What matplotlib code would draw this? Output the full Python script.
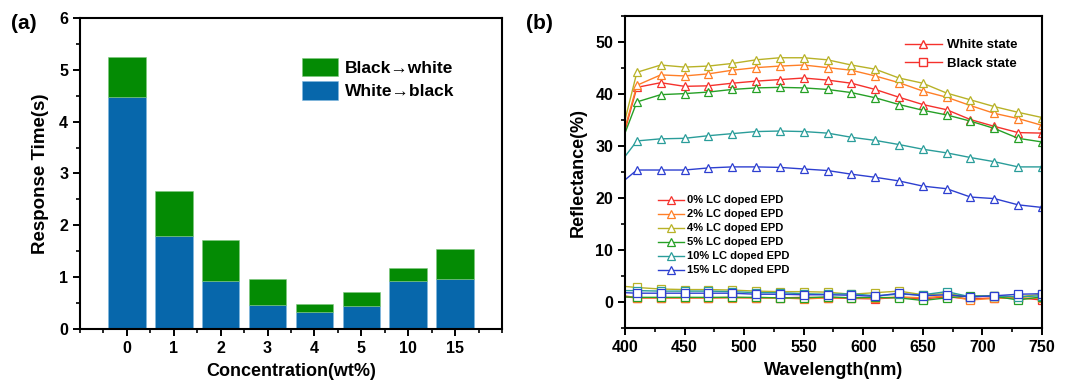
import matplotlib
matplotlib.use("Agg")
import matplotlib.pyplot as plt
from matplotlib.ticker import MultipleLocator
from matplotlib.lines import Line2D

plt.rcParams['font.family'] = ['Liberation Sans', 'DejaVu Sans']
plt.rcParams['font.weight'] = 'bold'

# ---------------- Panel (a) data ----------------
concentrations = ['0', '1', '2', '3', '4', '5', '10', '15']
white_to_black = [4.47, 1.80, 0.92, 0.47, 0.33, 0.45, 0.92, 0.96]
total_time = [5.25, 2.67, 1.71, 0.96, 0.48, 0.71, 1.18, 1.55]
black_to_white = [t - w for t, w in zip(total_time, white_to_black)]

# ---------------- Panel (b) data ----------------
wavelength = [400, 410, 430, 450, 470, 490, 510, 530, 550, 570, 590,
              610, 630, 650, 670, 690, 710, 730, 750]
series_labels = ['0% LC doped EPD', '2% LC doped EPD', '4% LC doped EPD',
                 '5% LC doped EPD', '10% LC doped EPD', '15% LC doped EPD']
white_0 = [33.0, 41.3, 42.2, 41.5, 41.6, 42.1, 42.5, 42.8, 43.1, 42.7, 42.1,
           40.9, 39.4, 38.0, 37.0, 35.1, 33.8, 32.6, 32.5]
white_2 = [33.5, 41.7, 43.7, 43.5, 43.9, 44.6, 45.1, 45.4, 45.6, 45.1, 44.6,
           43.5, 42.2, 40.6, 39.4, 37.8, 36.3, 35.3, 34.0]
white_4 = [35.0, 44.2, 45.6, 45.2, 45.4, 45.9, 46.6, 47.0, 47.0, 46.6, 45.6,
           44.8, 43.1, 42.1, 40.2, 38.9, 37.6, 36.5, 35.5]
white_5 = [32.5, 38.5, 39.9, 40.1, 40.4, 40.9, 41.2, 41.3, 41.2, 40.9, 40.3,
           39.3, 38.0, 36.9, 36.0, 34.8, 33.4, 31.5, 30.8]
white_10 = [28.0, 31.0, 31.4, 31.5, 32.0, 32.4, 32.8, 32.9, 32.8, 32.5, 31.7,
            31.1, 30.3, 29.4, 28.7, 27.8, 27.0, 26.0, 26.0]
white_15 = [23.5, 25.4, 25.4, 25.4, 25.8, 26.0, 26.0, 25.9, 25.6, 25.3, 24.6,
            24.0, 23.3, 22.3, 21.8, 20.2, 19.9, 18.7, 18.2]
black_0 = [1.0, 0.8, 0.8, 0.8, 0.8, 0.9, 0.8, 0.8, 0.9, 0.8, 0.7,
           0.6, 0.9, 0.6, 1.0, 0.6, 0.8, 0.8, 0.4]
black_2 = [1.2, 0.8, 0.8, 0.8, 0.8, 0.8, 0.8, 0.8, 0.6, 0.8, 0.8,
           0.7, 1.0, 0.8, 1.2, 0.4, 0.7, 0.8, 0.7]
black_4 = [3.0, 2.8, 2.5, 2.4, 2.4, 2.3, 2.1, 2.0, 2.0, 1.9, 1.5,
           1.8, 2.1, 1.4, 1.6, 1.0, 1.2, 1.0, 1.5]
black_5 = [1.0, 0.9, 0.9, 0.9, 0.9, 0.9, 0.9, 0.8, 0.8, 1.0, 0.8,
           0.9, 0.8, 0.3, 0.8, 1.2, 1.1, 0.4, 1.0]
black_10 = [2.2, 2.2, 2.1, 2.1, 2.1, 2.0, 1.8, 1.8, 1.6, 1.5, 1.6,
            1.2, 1.5, 1.4, 2.0, 1.0, 1.2, 1.0, 1.2]
black_15 = [1.8, 1.7, 1.7, 1.7, 1.7, 1.7, 1.5, 1.5, 1.4, 1.4, 1.3,
            1.1, 1.7, 1.2, 1.4, 1.0, 1.2, 1.5, 1.6]
white_states = [white_0, white_2, white_4, white_5, white_10, white_15]
black_states = [black_0, black_2, black_4, black_5, black_10, black_15]
series_colors = ['#f5312c', '#ff7f27', '#b8b227', '#26a026', '#2a9d9a', '#2d3fd0']

fig = plt.figure(figsize=(10.72, 3.85), dpi=100)

# ---------------- Panel (a) ----------------
ax1 = fig.add_axes([0.0746, 0.1455, 0.3937, 0.808])
xpos = list(range(len(concentrations)))
blue = '#0767ab'
green = '#048b04'
ax1.bar(xpos, white_to_black, width=0.8, color=blue, edgecolor='#7fb8e0',
        linewidth=0.4, label='White\u2192black', zorder=2)
ax1.bar(xpos, black_to_white, width=0.8, bottom=white_to_black, color=green,
        edgecolor='#7fc87f', linewidth=0.4, label='Black\u2192white', zorder=2)
ax1.set_xlim(-1, 8)
ax1.set_ylim(0, 6)
ax1.set_xticks(xpos)
ax1.set_xticklabels(concentrations)
ax1.xaxis.set_minor_locator(MultipleLocator(0.5))
ax1.yaxis.set_major_locator(MultipleLocator(1))
ax1.yaxis.set_minor_locator(MultipleLocator(0.5))
ax1.set_xlabel('Concentration(wt%)', fontsize=13, fontweight='bold', labelpad=5)
ax1.set_ylabel('Response Time(s)', fontsize=13.5, fontweight='bold', labelpad=7)
handles, labels = ax1.get_legend_handles_labels()
ax1.legend(handles[::-1], labels[::-1], loc='upper left',
           bbox_to_anchor=(0.526, 0.872), borderaxespad=0, borderpad=0,
           frameon=False, handlelength=2.1, handleheight=1.25, handletextpad=0.4,
           labelspacing=0.3, prop={'weight': 'bold', 'size': 12.5})
fig.text(0.010, 0.925, '(a)', fontsize=15, fontweight='bold')

# ---------------- Panel (b) ----------------
ax2 = fig.add_axes([0.583, 0.148, 0.389, 0.81])
for w, b, lab, c in zip(white_states, black_states, series_labels, series_colors):
    ax2.plot(wavelength, w, color=c, lw=1.0, marker='^', markersize=6,
             markerfacecolor='white', markeredgecolor=c, markeredgewidth=0.9,
             markevery=list(range(1, len(wavelength))), label=lab)
    ax2.plot(wavelength, b, color=c, lw=1.0, marker='s', markersize=5.5,
             markerfacecolor='white', markeredgecolor=c, markeredgewidth=0.9,
             markevery=list(range(1, len(wavelength))))
ax2.set_xlim(400, 750)
ax2.set_ylim(-5, 55)
ax2.xaxis.set_major_locator(MultipleLocator(50))
ax2.xaxis.set_minor_locator(MultipleLocator(25))
ax2.yaxis.set_minor_locator(MultipleLocator(5))
ax2.set_yticks([0, 10, 20, 30, 40, 50])
ax2.set_xlabel('Wavelength(nm)', fontsize=13, fontweight='bold', labelpad=5)
ax2.set_ylabel('Reflectance(%)', fontsize=13, fontweight='bold', labelpad=6)
leg1 = ax2.legend(loc='upper left', bbox_to_anchor=(0.08, 0.425), borderaxespad=0,
                  borderpad=0, frameon=False,
                  prop={'weight': 'bold', 'size': 8}, handlelength=2.3,
                  handletextpad=0.3, labelspacing=0.36)
ax2.add_artist(leg1)
state_handles = [
    Line2D([], [], color=series_colors[0], lw=1.0, marker='^', markersize=6,
           markerfacecolor='white', markeredgecolor=series_colors[0]),
    Line2D([], [], color=series_colors[0], lw=1.0, marker='s', markersize=5.5,
           markerfacecolor='white', markeredgecolor=series_colors[0]),
]
ax2.legend(state_handles, ['White state', 'Black state'], loc='upper right',
           bbox_to_anchor=(0.97, 0.965), frameon=False,
           prop={'weight': 'bold', 'size': 9.5}, handlelength=2.8,
           handletextpad=0.4, labelspacing=0.5)
fig.text(0.491, 0.925, '(b)', fontsize=15, fontweight='bold')

for ax in (ax1, ax2):
    for s in ax.spines.values():
        s.set_linewidth(1.5)
    ax.tick_params(which='major', direction='out', length=5, width=1.4,
                   labelsize=11.5, top=False, right=False)
    ax.tick_params(which='minor', direction='out', length=3, width=1.2,
                   top=False, right=False)
    for t in ax.get_xticklabels() + ax.get_yticklabels():
        t.set_fontweight('bold')

fig.savefig('out.png', dpi=100)
